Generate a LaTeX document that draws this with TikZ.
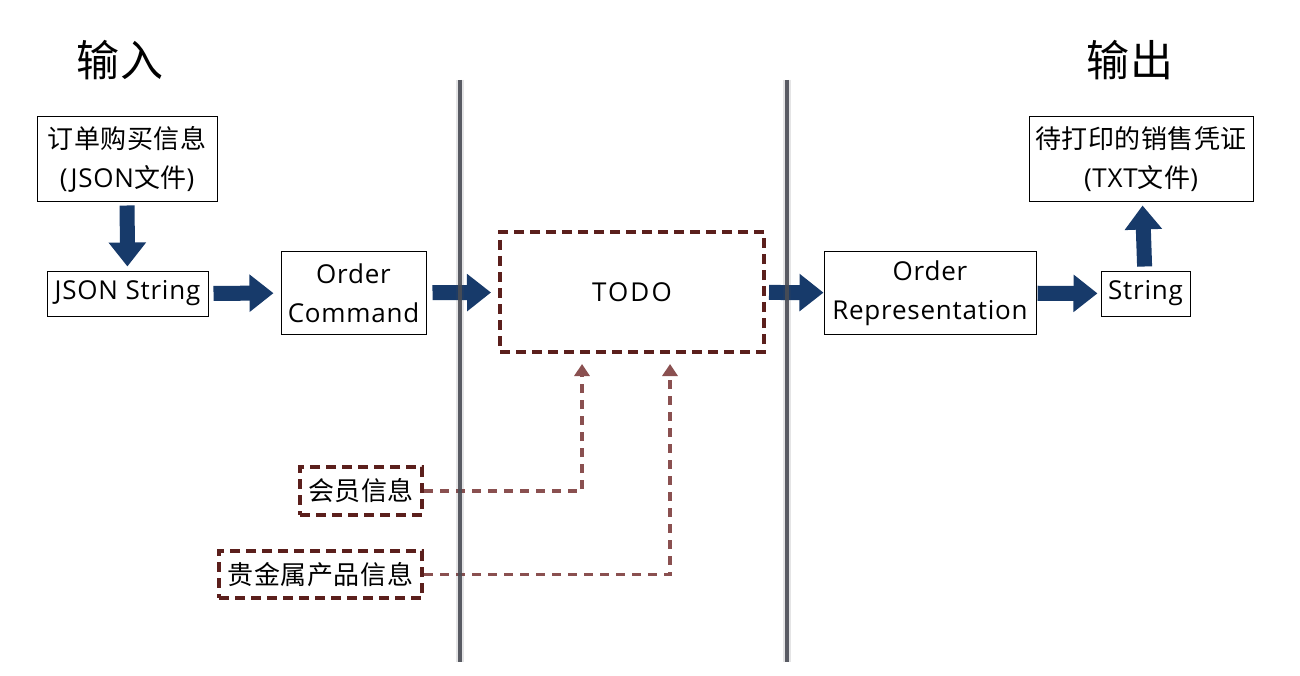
\documentclass[tikz,border=0pt]{standalone}
\usepackage{fontspec}
\setmainfont[LetterSpace=3]{Open Sans}
\newfontfamily\cjk[LetterSpace=2]{Noto Sans CJK SC}
\usetikzlibrary{arrows.meta}
\definecolor{navy}{HTML}{173A6A}
\definecolor{darkbrown}{HTML}{5B1F1C}
\definecolor{connbrown}{HTML}{8A5050}
\definecolor{sepgray}{HTML}{4A4D55}
\tikzset{
  box/.style={draw=black, line width=1pt, inner sep=0pt, align=center, font=\fontsize{26}{39}\selectfont},
  dbox/.style={draw=darkbrown, line width=4pt, dash pattern=on 10pt off 6pt, inner sep=0pt, align=center, font=\fontsize{26}{39}\selectfont},
  bigarrow/.style={draw=navy, line width=15pt, -{Triangle[length=24pt,width=36pt]}},
  conn/.style={draw=connbrown, line width=3.5pt, dash pattern=on 9pt off 7pt, -{Triangle[length=12pt,width=15pt]}},
  sep/.style={draw=sepgray, line width=4.5pt, opacity=0.9},
  sephalo/.style={draw=sepgray, line width=8pt, opacity=0.15},
  title/.style={font=\cjk\fontsize{43}{45}\selectfont, inner sep=0pt}
}
\begin{document}
\begin{tikzpicture}[x=1pt,y=-1pt]
\useasboundingbox (0,0) rectangle (1300,676);
\fill[white] (0,0) rectangle (1300,676);
\node[title] (tin) at (120,60) {输入};
\node[title] (tout) at (1130,60) {输出};
\node[box, minimum width=180pt, minimum height=85pt] (src) at (127,159.5) {{\cjk 订单购买信息}\\({JSON}{\cjk 文件})};
\node[box, minimum width=161pt, minimum height=45pt] (json) at (127.5,293.5) {JSON String};
\node[box, minimum width=145pt, minimum height=82pt] (cmd) at (353.5,293) {Order\\Command};
\node[dbox, minimum width=264pt, minimum height=120pt] (todo) at (632,292) {\addfontfeature{LetterSpace=8}TODO};
\node[box, minimum width=212pt, minimum height=82pt] (rep) at (930,293) {Order\\Representation};
\node[box, minimum width=89pt, minimum height=45pt] (str) at (1145.5,293.5) {String};
\node[box, minimum width=224pt, minimum height=85pt] (out) at (1141,159.5) {{\cjk 待打印的销售凭证}\\(TXT{\cjk 文件})};
\node[dbox, minimum width=122pt, minimum height=48pt] (member) at (361,491) {\cjk 会员信息};
\node[dbox, minimum width=203pt, minimum height=47pt] (metal) at (320.5,574.5) {\cjk 贵金属产品信息};

\draw[bigarrow, shorten <=3pt, shorten >=4pt] (src) -- (json);
\draw[bigarrow, shorten <=5pt, shorten >=7pt] (json) -- (cmd);
\draw[bigarrow, shorten <=6pt, shorten >=7pt] (cmd) -- (todo);
\draw[bigarrow, shorten <=3pt, shorten >=0pt] (todo) -- (rep);
\draw[bigarrow, shorten <=1pt, shorten >=3pt] (rep) -- (str);
\draw[bigarrow, shorten <=4pt, shorten >=3pt] (str) -- (out);

\draw[conn, shorten >=10pt] (member.east) -| ([xshift=-50pt]todo.south);
\draw[conn, shorten >=10pt] (metal.east) -| ([xshift=38pt]todo.south);

\coordinate (s1t) at (460,80);
\coordinate (s1b) at (460,662);
\coordinate (s2t) at (787,80);
\coordinate (s2b) at (787,662);
\draw[sephalo] (s1t) -- (s1b);
\draw[sephalo] (s2t) -- (s2b);
\draw[sep] (s1t) -- (s1b);
\draw[sep] (s2t) -- (s2b);
\end{tikzpicture}
\end{document}
